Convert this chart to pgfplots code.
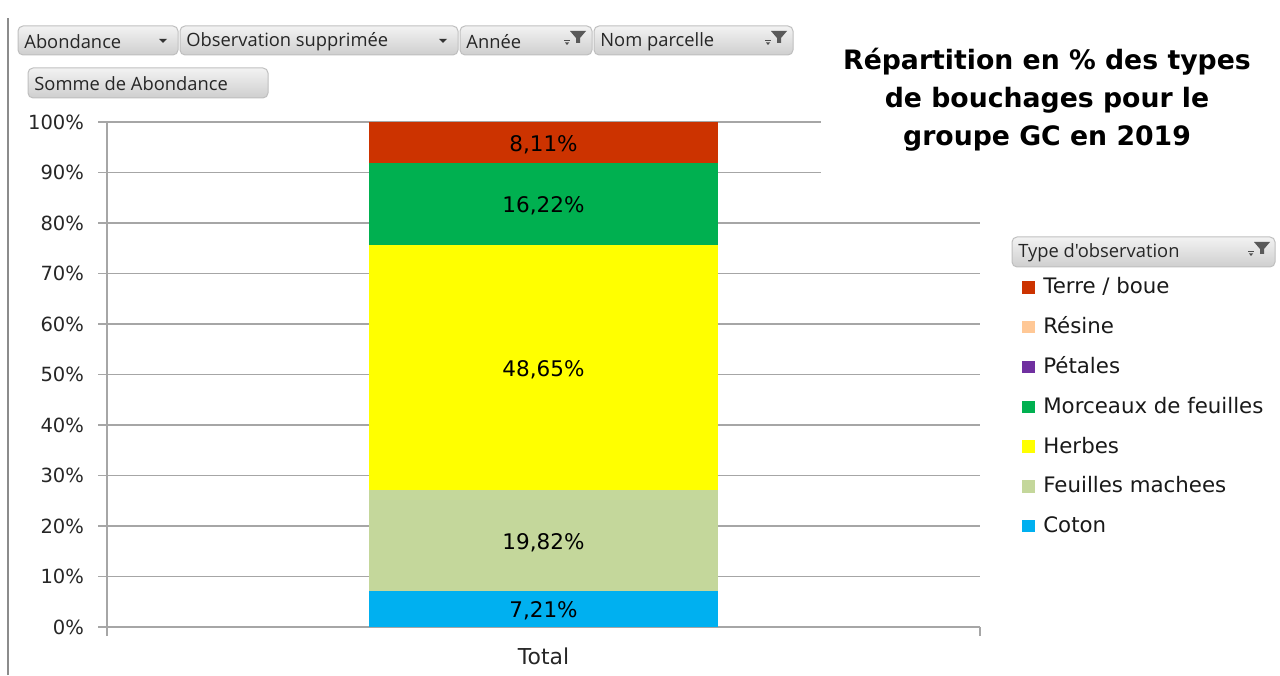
\documentclass[border=0pt]{standalone}
\usepackage{fontspec}
\setmainfont{DejaVu Sans}
\newfontfamily\uifont{Open Sans}
\usepackage{pgfplots}
\usepackage{pgfplotstable}
\pgfplotsset{compat=1.18}

\definecolor{coton}{HTML}{00B0F0}
\definecolor{feuilles}{HTML}{C4D79B}
\definecolor{herbes}{HTML}{FFFF00}
\definecolor{morceaux}{HTML}{00B050}
\definecolor{petales}{HTML}{7030A0}
\definecolor{resine}{HTML}{FFC896}
\definecolor{terre}{HTML}{CC3300}
\definecolor{gridgray}{HTML}{A6A6A6}

\pgfplotsset{
  sq/.style={legend image code/.code={\fill[##1] (0bp,-2.7bp) rectangle (6.2bp,3.5bp);}},
  box/.style={
    at={(53.5bp,24bp)}, anchor=south west,
    scale only axis, width=436.5bp, height=252.5bp,
    xmin=0, xmax=1, ymin=0, ymax=100,
  },
}

% segment values (%), from bottom to top, with the middle of each segment
\pgfplotstableread{
x   val   mid
0.5 7.21  3.605
0.5 19.82 17.12
0.5 48.65 51.355
0.5 16.22 83.79
0.5 8.11  95.945
}\labels

\tikzset{
  btn/.style={rounded corners=2.5bp, draw=black!25, top color=black!5, bottom color=black!19, line width=0.5bp},
}
% x1, y1, x2, y2 (pixels from top left), text
\newcommand\btn[5]{%
  \path[btn] (#1,675-#2) rectangle (#3,675-#4);
  \node[anchor=west, inner sep=0, font=\uifont\fontsize{9.2}{10}\selectfont, text=black!85] at (#1+6,675-#2/2-#4/2-1) {#5};
}
\newcommand\drop[2]{\fill[black!80] (#1-4,675-#2+2) -- (#1+4,675-#2+2) -- (#1,675-#2-2) -- cycle;}
\newcommand\filt[2]{%
  \fill[black!65] (#1-8,675-#2+7) -- (#1+8,675-#2+7) -- (#1+2,675-#2) -- (#1+2,675-#2-5) -- (#1-2,675-#2-5) -- (#1-2,675-#2) -- cycle;
  \fill[black!70] (#1-14,675-#2-2) rectangle (#1-8,675-#2-3.5);
  \fill[black!70] (#1-13,675-#2-4.5) -- (#1-9,675-#2-4.5) -- (#1-11,675-#2-7) -- cycle;
}

\begin{document}
\begin{tikzpicture}[x=0.5bp,y=0.5bp]
\useasboundingbox (0,0) rectangle (1280,675);

\begin{axis}[
  box,
  axis lines*=left,
  axis line style={gridgray, line width=0.75bp},
  ymajorgrids, grid style={gridgray, line width=0.75bp},
  tick align=outside, major tick length=4.5bp,
  tick style={gridgray, line width=0.75bp},
  ytick={0,10,...,100},
  /pgf/number format/assume math mode=true,
  yticklabel={\pgfmathprintnumber{\tick}\%},
  yticklabel style={font=\fontsize{9.8}{11}\selectfont, text=black!85, xshift=-3.5bp},
  xtick={0,1}, xticklabels={},
  extra x ticks={0.5}, extra x tick labels={Total},
  extra x tick style={major tick length=0pt,
    tick label style={font=\fontsize{11}{12}\selectfont, text=black!85, yshift=-7bp}},
  ybar stacked, bar width=174.5bp,
  reverse legend,
  legend cell align=left,
  legend style={at={(rel axis cs:1.048,0.692)}, anchor=north west,
    draw=none, fill=none, inner sep=0pt, row sep=9.7bp,
    font=\fontsize{10.7}{12}\selectfont,
    nodes={inner xsep=4.3bp, inner ysep=0pt, text height=8bp, text depth=2.2bp, text=black!90}},
]
\addplot[fill=coton, draw=none, sq] coordinates {(0.5,7.21)};
\addlegendentry{Coton}
\addplot[fill=feuilles, draw=none, sq] coordinates {(0.5,19.82)};
\addlegendentry{Feuilles machees}
\addplot[fill=herbes, draw=none, sq] coordinates {(0.5,48.65)};
\addlegendentry{Herbes}
\addplot[fill=morceaux, draw=none, sq] coordinates {(0.5,16.22)};
\addlegendentry{Morceaux de feuilles}
\addplot[fill=petales, draw=none, sq] coordinates {(0.5,0)};
\addlegendentry{Pétales}
\addplot[fill=resine, draw=none, sq] coordinates {(0.5,0)};
\addlegendentry{Résine}
\addplot[fill=terre, draw=none, sq] coordinates {(0.5,8.11)};
\addlegendentry{Terre / boue}
\end{axis}

% value labels, centred in each segment
\begin{axis}[box, hide axis, clip=false]
\addplot[draw=none, mark=none,
  nodes near coords={\pgfmathprintnumber[fixed,fixed zerofill,precision=2,use comma,assume math mode=true]{\pgfplotspointmeta}\%},
  point meta=explicit,
  every node near coord/.append style={anchor=center, yshift=-1bp, text=black, font=\fontsize{10.8}{12}\selectfont}]
  table[x=x, y=mid, meta=val] {\labels};
\end{axis}

% left frame line
\draw[black!45, line width=1bp] (8,0) -- (8,675-18);

% title (hides the grid lines beneath it)
\fill[white] (821,675-110) rectangle (990,675-185);
\node[align=center, font=\bfseries\fontsize{13.4}{19}\selectfont] at (1047,675-100)
  {Répartition en \% des types\\de bouchages pour le\\groupe GC en 2019};

% pivot field buttons
\btn{18}{26}{178}{55}{Abondance}\drop{163}{41}
\btn{180}{26}{458}{55}{Observation supprimée}\drop{443}{41}
\btn{460}{26}{592}{55}{Année}\filt{578}{38}
\btn{594}{26}{793}{55}{Nom parcelle}\filt{779}{38}
\btn{28}{68}{268}{98}{Somme de Abondance}
\btn{1012}{237}{1275}{267}{Type d'observation}\filt{1262}{249}
\end{tikzpicture}
\end{document}
